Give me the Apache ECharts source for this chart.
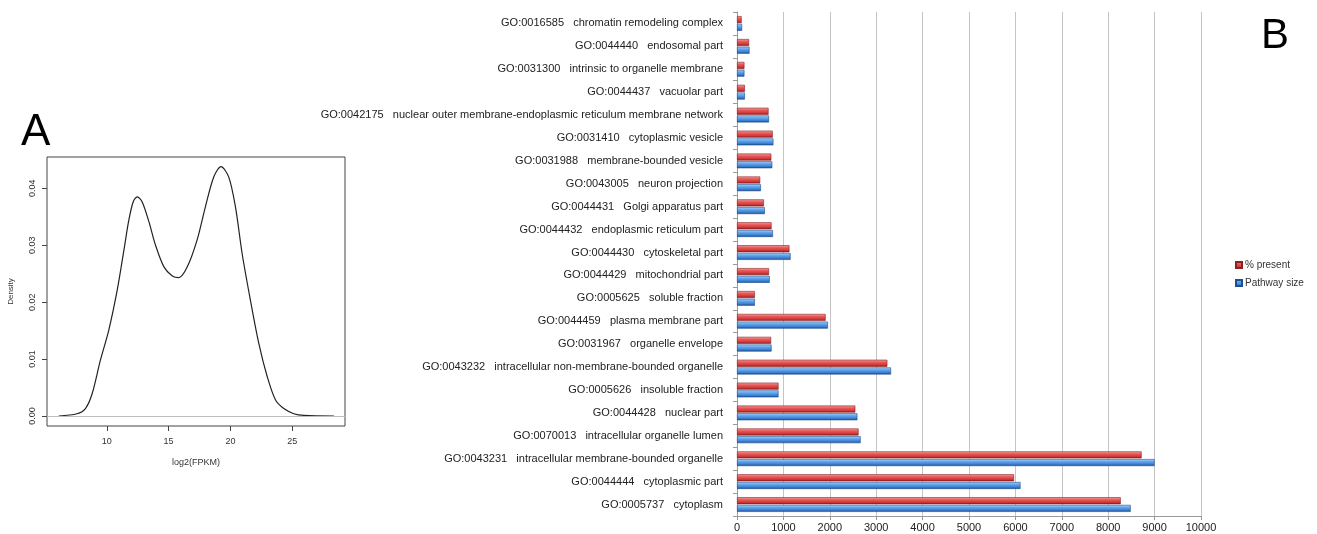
<!DOCTYPE html>
<html>
<head>
<meta charset="utf-8">
<title>Expression density and GO cellular component terms</title>
<script src="https://cdn.jsdelivr.net/npm/echarts@6/dist/echarts.min.js"></script>
<style>
  html, body { margin: 0; padding: 0; background: #ffffff; }
  #chart { width: 1317px; height: 534px; }
</style>
</head>
<body>
<div id="chart"></div>
<script>
// Panel A: kernel density of log2(FPKM)
const densityX = [6.11, 7.59, 8.27, 8.81, 9.48, 10.16, 10.84, 11.38, 11.78, 12.13, 12.46, 12.86, 13.41, 13.94, 14.62, 15.30, 15.84, 16.51, 17.30, 17.97, 18.65, 19.24, 19.86, 20.41, 20.95, 21.62, 22.30, 22.98, 23.65, 24.32, 25.13, 25.94, 28.38];
const densityY = [0.0, 0.0004, 0.0013, 0.0039, 0.0098, 0.0151, 0.0221, 0.0291, 0.0344, 0.0376, 0.0385, 0.0376, 0.0341, 0.0300, 0.0262, 0.0246, 0.0243, 0.0262, 0.0309, 0.0367, 0.0420, 0.0438, 0.0420, 0.0367, 0.0285, 0.0203, 0.0127, 0.0069, 0.0028, 0.0013, 0.0004, 0.0001, 0.0];
const densityXTicks = [10, 15, 20, 25];
const densityYTicks = [0, 0.01, 0.02, 0.03, 0.04];

// Panel B: GO cellular component terms, listed top to bottom
const goCodes = [
  'GO:0016585', 'GO:0044440', 'GO:0031300', 'GO:0044437', 'GO:0042175',
  'GO:0031410', 'GO:0031988', 'GO:0043005', 'GO:0044431', 'GO:0044432',
  'GO:0044430', 'GO:0044429', 'GO:0005625', 'GO:0044459', 'GO:0031967',
  'GO:0043232', 'GO:0005626', 'GO:0044428', 'GO:0070013', 'GO:0043231',
  'GO:0044444', 'GO:0005737'
];
const goNames = [
  'chromatin remodeling complex', 'endosomal part', 'intrinsic to organelle membrane', 'vacuolar part',
  'nuclear outer membrane-endoplasmic reticulum membrane network',
  'cytoplasmic vesicle', 'membrane-bounded vesicle', 'neuron projection', 'Golgi apparatus part',
  'endoplasmic reticulum part', 'cytoskeletal part', 'mitochondrial part', 'soluble fraction',
  'plasma membrane part', 'organelle envelope', 'intracellular non-membrane-bounded organelle',
  'insoluble fraction', 'nuclear part', 'intracellular organelle lumen',
  'intracellular membrane-bounded organelle', 'cytoplasmic part', 'cytoplasm'
];
const percentPresent = [100, 260, 160, 170, 680, 770, 740, 500, 580, 745, 1130, 690, 385, 1910, 735, 3240, 895, 2550, 2620, 8720, 5970, 8270];
const pathwaySize   = [110, 270, 160, 170, 690, 785, 760, 515, 600, 775, 1155, 705, 385, 1960, 745, 3320, 895, 2595, 2665, 9000, 6110, 8485];
const countTicks = [0, 1000, 2000, 3000, 4000, 5000, 6000, 7000, 8000, 9000, 10000];

const categories = goCodes.map((c, i) => c + '   ' + goNames[i]);
const densityPoints = densityX.map((x, i) => [x, densityY[i]]);

const FONT = '"Liberation Sans", Arial, sans-serif';

function barGradient(light, mid, main, dark) {
  return new echarts.graphic.LinearGradient(0, 0, 0, 1, [
    { offset: 0, color: light },
    { offset: 0.35, color: mid },
    { offset: 0.7, color: main },
    { offset: 1, color: dark }
  ]);
}

const chart = echarts.init(document.getElementById('chart'), null, { renderer: 'canvas' });

chart.setOption({
  backgroundColor: '#ffffff',
  animation: false,
  textStyle: { fontFamily: FONT },
  title: [
    { text: 'A', left: 16, top: 106, textStyle: { fontSize: 44, fontWeight: 'normal', color: '#000', fontFamily: FONT } },
    { text: 'B', left: 1256, top: 10, textStyle: { fontSize: 42, fontWeight: 'normal', color: '#000', fontFamily: FONT } }
  ],
  legend: {
    data: ['% present', 'Pathway size'],
    orient: 'vertical',
    left: 1230,
    top: 255,
    itemWidth: 6,
    itemHeight: 6,
    itemGap: 8,
    icon: 'rect',
    textStyle: { fontSize: 10, color: '#333', fontFamily: FONT, padding: [0, 0, 0, -2] }
  },
  grid: [
    { left: 47, top: 157, width: 298, height: 269, show: true, borderColor: '#444', borderWidth: 1, backgroundColor: 'transparent' },
    { left: 737, top: 12, width: 464, height: 504 }
  ],
  xAxis: [
    {
      gridIndex: 0,
      type: 'value',
      min: 5.16,
      max: 29.27,
      name: 'log2(FPKM)',
      nameLocation: 'middle',
      nameGap: 32,
      nameTextStyle: { fontSize: 9, color: '#333', fontFamily: FONT },
      axisLine: { show: false, onZero: false },
      axisTick: { show: true, inside: false, length: 5, customValues: densityXTicks, lineStyle: { color: '#444' } },
      axisLabel: { customValues: densityXTicks, fontSize: 9, color: '#333', margin: 11 },
      splitLine: { show: false }
    },
    {
      gridIndex: 1,
      type: 'value',
      min: 0,
      max: 10000,
      interval: 1000,
      axisLine: { show: true, onZero: false, lineStyle: { color: '#999' } },
      axisTick: { show: true, length: 4, lineStyle: { color: '#999' } },
      axisLabel: { fontSize: 11, color: '#222', margin: 6, customValues: countTicks, formatter: v => String(v) },
      splitLine: { show: true, lineStyle: { color: '#c4c4c4', width: 1 } }
    }
  ],
  yAxis: [
    {
      gridIndex: 0,
      type: 'value',
      min: -0.00176,
      max: 0.0455,
      name: 'Density',
      nameLocation: 'middle',
      nameGap: 32,
      nameTextStyle: { fontSize: 8, color: '#333', fontFamily: FONT },
      axisLine: { show: false, onZero: false },
      axisTick: { show: true, inside: false, length: 5, customValues: densityYTicks, lineStyle: { color: '#444' } },
      axisLabel: { customValues: densityYTicks, rotate: 90, fontSize: 9, color: '#333', margin: 10, formatter: v => v.toFixed(2) },
      splitLine: { show: false }
    },
    {
      gridIndex: 1,
      type: 'category',
      data: categories,
      inverse: true,
      axisLine: { show: true, onZero: false, lineStyle: { color: '#999' } },
      axisTick: { show: true, length: 4, lineStyle: { color: '#999' } },
      axisLabel: { fontSize: 11, color: '#222', margin: 14 },
      splitLine: { show: false }
    }
  ],
  series: [
    {
      name: 'zero',
      type: 'line',
      xAxisIndex: 0,
      yAxisIndex: 0,
      silent: true,
      symbol: 'none',
      data: [],
      markLine: {
        silent: true,
        symbol: 'none',
        label: { show: false },
        lineStyle: { color: '#bdbdbd', width: 1, type: 'solid' },
        data: [{ yAxis: 0 }]
      }
    },
    {
      name: 'density',
      type: 'line',
      xAxisIndex: 0,
      yAxisIndex: 0,
      data: densityPoints,
      smooth: 0.3,
      symbol: 'none',
      lineStyle: { color: '#222', width: 1.2 }
    },
    {
      name: '% present',
      type: 'bar',
      xAxisIndex: 1,
      yAxisIndex: 1,
      data: percentPresent,
      barWidth: 7,
      barGap: '10%',
      itemStyle: {
        color: barGradient('#f6a8a8', '#e85a5a', '#d43a3a', '#8c1d1d'),
        borderColor: '#8a2020',
        borderWidth: 0.6
      }
    },
    {
      name: 'Pathway size',
      type: 'bar',
      xAxisIndex: 1,
      yAxisIndex: 1,
      data: pathwaySize,
      barWidth: 7,
      itemStyle: {
        color: barGradient('#b0d6fa', '#62a6ee', '#3f82d4', '#1d4c8c'),
        borderColor: '#1f4f8c',
        borderWidth: 0.6
      }
    }
  ]
});
</script>
</body>
</html>
